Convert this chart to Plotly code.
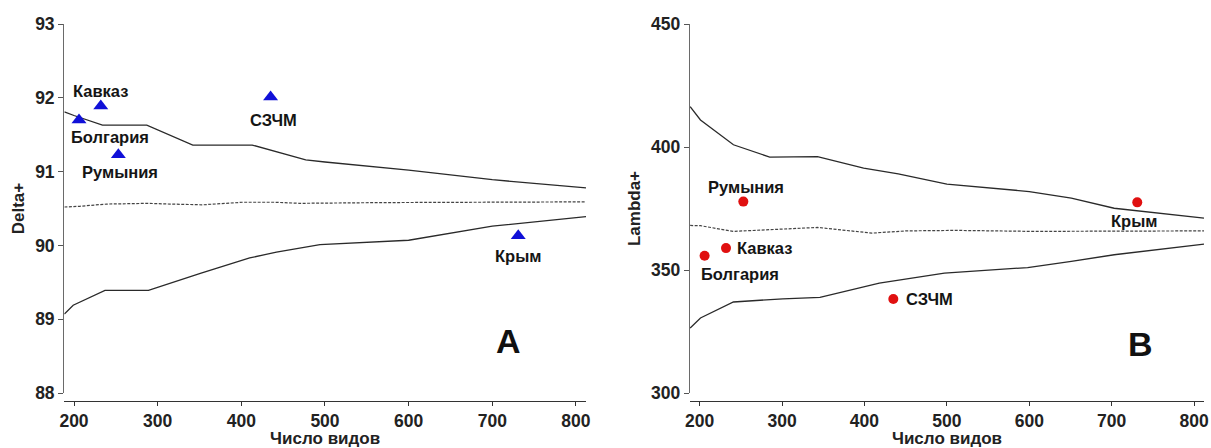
import plotly.graph_objects as go

# ---------------- Data ----------------
# Panel A: Delta+ funnel
a_up_x = [188.5, 200, 234, 287, 342, 413, 477, 500, 600, 700, 812]
a_up_y = [91.81, 91.76, 91.63, 91.63, 91.36, 91.36, 91.16, 91.13, 91.02, 90.89, 90.78]
a_mean_x = [188.5, 207, 239, 289, 315, 354, 402, 438, 470, 566, 812]
a_mean_y = [90.52, 90.53, 90.56, 90.57, 90.56, 90.55, 90.585, 90.585, 90.57, 90.58, 90.59]
a_lo_x = [188.5, 199, 237, 289, 351, 410, 442, 494, 600, 650, 700, 812]
a_lo_y = [89.07, 89.19, 89.39, 89.39, 89.62, 89.83, 89.91, 90.01, 90.07, 90.16, 90.26, 90.39]

regions = ["Болгария", "Кавказ", "Румыния", "СЗЧМ", "Крым"]
species = [206, 232, 253, 435, 731]
delta_vals = [91.70, 91.89, 91.23, 92.01, 90.13]
lambda_vals = [355.8, 358.9, 377.8, 338.2, 377.5]

# Panel B: Lambda+ funnel
b_up_x = [188.5, 201, 241, 285, 343, 399, 441, 500, 600, 651, 703, 812]
b_up_y = [416.4, 411.0, 400.9, 395.9, 396.1, 391.4, 389.1, 384.9, 381.9, 379.2, 375.1, 371.1]
b_mean_x = [188.5, 201, 241, 287, 343, 409, 451, 511, 605, 812]
b_mean_y = [368.1, 368.0, 365.7, 366.3, 367.3, 365.0, 365.9, 366.1, 365.7, 365.9]
b_lo_x = [188.5, 201, 241, 301, 346, 367, 418, 497, 598, 651, 703, 812]
b_lo_y = [326.4, 330.5, 337.0, 338.3, 338.9, 340.6, 344.7, 348.7, 351.0, 353.5, 356.2, 360.5]

x_ticks = [200, 300, 400, 500, 600, 700, 800]
a_y_ticks = [88, 89, 90, 91, 92, 93]
b_y_ticks = [300, 350, 400, 450]

# label placement (pixel offsets) per region
a_lab = {"Болгария": ("left", -10, -17), "Кавказ": ("center", 0, 15),
         "Румыния": ("center", 2, -17), "СЗЧМ": ("center", 3, -23),
         "Крым": ("center", 0, -20)}
b_lab = {"Болгария": ("left", -6, -18), "Кавказ": ("left", 9, 0),
         "Румыния": ("center", 3, 15), "СЗЧМ": ("left", 11, 0),
         "Крым": ("center", -3, -19)}

FONT = "Liberation Sans, Arial, sans-serif"
LINE = "#2a2a2a"

fig = go.Figure()

def funnel(xs, ys, xa, ya, dash=None, color=LINE, width=1.3):
    fig.add_trace(go.Scatter(x=xs, y=ys, mode="lines", xaxis=xa, yaxis=ya,
                             line=dict(color=color, width=width, dash=dash),
                             hoverinfo="skip", showlegend=False))

funnel(a_up_x, a_up_y, "x", "y")
funnel(a_mean_x, a_mean_y, "x", "y", dash="3px,1.5px", color="#444", width=1.2)
funnel(a_lo_x, a_lo_y, "x", "y")
funnel(b_up_x, b_up_y, "x2", "y2")
funnel(b_mean_x, b_mean_y, "x2", "y2", dash="3px,1.5px", color="#444", width=1.2)
funnel(b_lo_x, b_lo_y, "x2", "y2")

fig.add_trace(go.Scatter(x=species, y=delta_vals, mode="markers", xaxis="x", yaxis="y",
                         marker=dict(symbol="triangle-up", size=13, color="#1010d8"),
                         text=regions, showlegend=False))
fig.add_trace(go.Scatter(x=species, y=lambda_vals, mode="markers", xaxis="x2", yaxis="y2",
                         marker=dict(symbol="circle", size=10, color="#e01010"),
                         text=regions, showlegend=False))

ann = []
for r, sx, dv, lv in zip(regions, species, delta_vals, lambda_vals):
    anc, dx, dy = a_lab[r]
    ann.append(dict(x=sx, y=dv, xref="x", yref="y", text=r, showarrow=False,
                    xanchor=anc, yanchor="middle", xshift=dx, yshift=dy,
                    font=dict(family=FONT, size=16.5, color="#151515", weight="bold")))
    anc, dx, dy = b_lab[r]
    ann.append(dict(x=sx, y=lv, xref="x2", yref="y2", text=r, showarrow=False,
                    xanchor=anc, yanchor="middle", xshift=dx, yshift=dy,
                    font=dict(family=FONT, size=16.5, color="#151515", weight="bold")))

ann.append(dict(x=0.8505, y=0.14, xref="x domain", yref="y domain", text="A",
                showarrow=False, xanchor="center", yanchor="middle",
                font=dict(family=FONT, size=34, color="#111", weight="bold")))
ann.append(dict(x=0.876, y=0.133, xref="x2 domain", yref="y2 domain", text="B",
                showarrow=False, xanchor="center", yanchor="middle",
                font=dict(family=FONT, size=34, color="#111", weight="bold")))

H = 448.0
ydom = [1 - 393.0 / H, 1 - 24.0 / H]
line_pos = 1 - 401.0 / H   # detached x-axis line

XA_RANGE = [188.4, 812]
XB_RANGE = [188.3, 812]

tickfont = dict(family=FONT, size=17.5, color="#222", weight="bold")
titlefont = dict(family=FONT, size=17, color="#222", weight="bold")

xcommon = dict(tickvals=x_ticks, showgrid=False, zeroline=False, showline=True,
               linecolor="#333", linewidth=1.4,
               ticks="outside", ticklen=4, tickwidth=1.3, tickcolor="#333",
               tickfont=tickfont, anchor="free", position=line_pos, automargin=False,
               title=dict(text="Число видов", font=titlefont, standoff=2))
# companion axes drawing the upper half of the crossing x ticks
xinner = dict(tickvals=x_ticks, showgrid=False, zeroline=False, showline=False,
              ticks="inside", ticklen=4, tickwidth=1.3, tickcolor="#333",
              showticklabels=False, anchor="free", position=line_pos, automargin=False)
ycommon = dict(showgrid=False, zeroline=False, showline=True, linecolor="#6a6a6a",
               linewidth=1.4, ticks="outside", ticklen=5, tickwidth=1.3,
               tickcolor="#555", tickfont=tickfont, automargin=False)

fig.update_layout(
    width=1211, height=448,
    margin=dict(l=0, r=0, t=0, b=0),
    paper_bgcolor="white", plot_bgcolor="white",
    showlegend=False,
    xaxis=dict(domain=[64.3 / 1211, 586 / 1211], range=XA_RANGE, **xcommon),
    yaxis=dict(domain=ydom, range=[88, 93], tickvals=a_y_ticks, anchor="x",
               title=dict(text="Delta+", font=titlefont, standoff=6), **ycommon),
    xaxis2=dict(domain=[690 / 1211, 1204 / 1211], range=XB_RANGE, **xcommon),
    yaxis2=dict(domain=ydom, range=[300, 450], tickvals=b_y_ticks, anchor="x2",
                title=dict(text="Lambda+", font=titlefont, standoff=6), **ycommon),
    xaxis3=dict(overlaying="x", range=XA_RANGE, **xinner),
    xaxis4=dict(overlaying="x2", range=XB_RANGE, **xinner),
    annotations=ann,
)

fig.write_html("out.html", config={"displayModeBar": False},
               post_script="document.body.style.margin='0';document.body.style.overflow='hidden';")
